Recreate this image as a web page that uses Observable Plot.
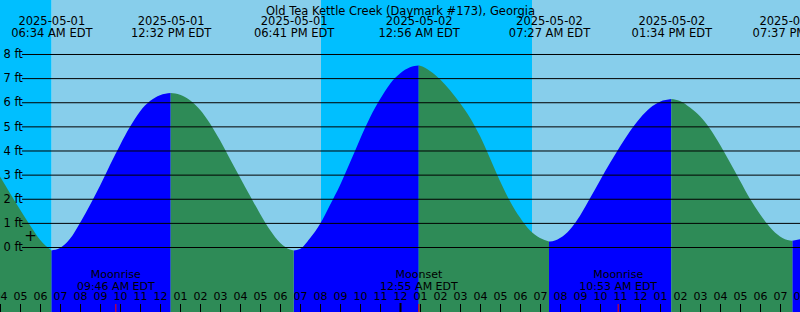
<!DOCTYPE html>
<html><head><meta charset="utf-8">
<script src="https://cdn.jsdelivr.net/npm/d3@7"></script>
<script src="https://cdn.jsdelivr.net/npm/@observablehq/plot@0.6"></script>
<style>html,body{margin:0;padding:0;background:#fff;} svg{display:block}</style>
</head><body><div id="chart"></div>
<script>
const title = "Old Tea Kettle Creek (Daymark #173), Georgia";

// Tide curve samples (local clock time, feet)
const sampleTimes = [
  "2025-05-01T04:00","2025-05-01T04:30","2025-05-01T05:00","2025-05-01T05:30","2025-05-01T06:00",
  "2025-05-01T07:00","2025-05-01T07:30","2025-05-01T08:00","2025-05-01T08:30","2025-05-01T09:00",
  "2025-05-01T09:30","2025-05-01T10:00","2025-05-01T10:30","2025-05-01T11:00","2025-05-01T11:30",
  "2025-05-01T12:00","2025-05-01T13:00","2025-05-01T13:30","2025-05-01T14:00","2025-05-01T14:30",
  "2025-05-01T15:00","2025-05-01T15:30","2025-05-01T16:00","2025-05-01T16:30","2025-05-01T17:00",
  "2025-05-01T17:30","2025-05-01T18:00","2025-05-01T18:30","2025-05-01T19:00","2025-05-01T19:30",
  "2025-05-01T20:00","2025-05-01T20:30","2025-05-01T21:00","2025-05-01T21:30","2025-05-01T22:00",
  "2025-05-01T22:30","2025-05-01T23:00","2025-05-01T23:30","2025-05-02T00:00","2025-05-02T00:30",
  "2025-05-02T01:00","2025-05-02T01:30","2025-05-02T02:00","2025-05-02T02:30","2025-05-02T03:00",
  "2025-05-02T03:30","2025-05-02T04:00","2025-05-02T04:30","2025-05-02T05:00","2025-05-02T05:30",
  "2025-05-02T06:00","2025-05-02T06:30","2025-05-02T07:00","2025-05-02T07:30","2025-05-02T08:00",
  "2025-05-02T08:30","2025-05-02T09:00","2025-05-02T09:30","2025-05-02T10:00","2025-05-02T10:30",
  "2025-05-02T11:00","2025-05-02T11:30","2025-05-02T12:00","2025-05-02T12:30","2025-05-02T13:00",
  "2025-05-02T14:00","2025-05-02T14:30","2025-05-02T15:00","2025-05-02T15:30","2025-05-02T16:00",
  "2025-05-02T16:30","2025-05-02T17:00","2025-05-02T17:30","2025-05-02T18:00","2025-05-02T18:30",
  "2025-05-02T19:00","2025-05-02T19:30","2025-05-02T20:00"
];
const sampleHeights = [
  2.92, 2.23, 1.55, 0.90, 0.30,
  -0.04, 0.34, 1.00, 1.74, 2.54,
  3.40, 4.22, 4.98, 5.62, 6.05,
  6.29, 6.31, 6.08, 5.69, 5.12,
  4.42, 3.65, 2.88, 2.12, 1.38,
  0.70, 0.18, -0.10, -0.08, 0.36,
  0.95, 1.74, 2.56, 3.50, 4.47,
  5.37, 6.12, 6.76, 7.19, 7.45,
  7.51, 7.30, 6.95, 6.50, 5.97,
  5.36, 4.60, 3.68, 2.74, 1.90,
  1.22, 0.68, 0.37, 0.23, 0.37,
  0.73, 1.30, 2.02, 2.76, 3.48,
  4.17, 4.80, 5.34, 5.76, 6.02,
  6.05, 5.78, 5.42, 4.90, 4.24,
  3.50, 2.75, 2.00, 1.36, 0.82,
  0.44, 0.27, 0.32
];

// High / low tide events
const tideTimes = ["2025-05-01T06:34","2025-05-01T12:32","2025-05-01T18:41","2025-05-02T00:56","2025-05-02T07:27","2025-05-02T13:34","2025-05-02T19:37"];
const tideTypes = ["low","high","low","high","low","high","low"];
const tideHeights = [-0.14, 6.38, -0.14, 7.52, 0.23, 6.13, 0.26];
const tideDateLabels = ["2025-05-01","2025-05-01","2025-05-01","2025-05-02","2025-05-02","2025-05-02","2025-05-02"];
const tideTimeLabels = ["06:34 AM EDT","12:32 PM EDT","06:41 PM EDT","12:56 AM EDT","07:27 AM EDT","01:34 PM EDT","07:37 PM EDT"];

// Moon events
const moonTimes = ["2025-05-01T09:46","2025-05-02T00:55","2025-05-02T10:53"];
const moonNames = ["Moonrise","Moonset","Moonrise"];
const moonTimeLabels = ["09:46 AM EDT","12:55 AM EDT","10:53 AM EDT"];

// Day / night shading
const skyStarts = ["2025-05-01T04:00","2025-05-01T06:35","2025-05-01T20:03","2025-05-02T06:36"];
const skyEnds   = ["2025-05-01T06:35","2025-05-01T20:03","2025-05-02T06:36","2025-05-02T20:00"];
const skyKinds  = ["night","day","night","day"];

const dayBoundaries = ["2025-05-02T00:00"];
const ftTicks = [0,1,2,3,4,5,6,7,8];
const markerTime = "2025-05-01T05:30";
const markerHeight = 0.47;

const xStart = "2025-05-01T04:00", xEnd = "2025-05-02T20:00";
const yLo = -2.694, yHi = 10.238;

const NIGHT = "#00bfff", DAY = "#87ceeb", FLOOD = "#0000ff", EBB = "#2e8b57";
const FONT = 11.5, FONT_B = 11;

const parse = d3.utcParse("%Y-%m-%dT%H:%M");

// build water rows split into rising/falling segments at the extremes
const extremes = tideTimes.map((t, i) => ({time: parse(t), type: tideTypes[i], height: tideHeights[i]}));
const samples = sampleTimes.map((t, i) => ({time: parse(t), height: sampleHeights[i], ext: false}))
  .concat(extremes.map(e => ({time: e.time, height: e.height, ext: true})))
  .sort((a, b) => a.time - b.time);
function segDir(s) {
  if (s < extremes.length) return extremes[s].type === "high" ? "rise" : "fall";
  return extremes[extremes.length - 1].type === "low" ? "rise" : "fall";
}
const waterRows = [];
for (const p of samples) {
  const before = extremes.filter(e => e.time < p.time).length;
  waterRows.push({time: p.time, height: p.height, seg: before, dir: segDir(before)});
  if (p.ext) waterRows.push({time: p.time, height: p.height, seg: before + 1, dir: segDir(before + 1)});
}

const sky = skyStarts.map((s, i) => ({start: parse(s), end: parse(skyEnds[i]), kind: skyKinds[i]}));
const tideEvents = tideTimes.map((t, i) => ({time: parse(t), text: tideDateLabels[i] + "\n" + tideTimeLabels[i]}));
const moonEvents = moonTimes.map((t, i) => ({time: parse(t), text: moonNames[i] + "\n" + moonTimeLabels[i]}));
const start = parse(xStart), end = parse(xEnd);
const hours = d3.utcHour.range(start, d3.utcHour.offset(end, 1));
const hourFmt = d3.utcFormat("%I");

const plot = Plot.plot({
  width: 800, height: 312,
  marginTop: 0, marginRight: 0, marginBottom: 0, marginLeft: 0,
  style: {fontFamily: "'DejaVu Sans', sans-serif", fontSize: FONT + "px", color: "black", background: "white", overflow: "hidden"},
  x: {type: "utc", domain: [start, end], axis: null},
  y: {domain: [yLo, yHi], axis: null},
  marks: [
    Plot.rect(sky.filter(d => d.kind === "night"), {x1: "start", x2: "end", y1: yLo, y2: yHi, fill: NIGHT}),
    Plot.rect(sky.filter(d => d.kind === "day"), {x1: "start", x2: "end", y1: yLo, y2: yHi, fill: DAY}),
    Plot.areaY(waterRows.filter(d => d.dir === "rise"), {x: "time", y1: yLo, y2: "height", z: "seg", fill: FLOOD, curve: "monotone-x"}),
    Plot.areaY(waterRows.filter(d => d.dir === "fall"), {x: "time", y1: yLo, y2: "height", z: "seg", fill: EBB, curve: "monotone-x"}),
    Plot.tickY(ftTicks, {y: d => d, stroke: "black", strokeWidth: 1, insetLeft: 22}),
    Plot.text(ftTicks, {y: d => d, text: d => `${d} ft`, frameAnchor: "left", dx: 3, textAnchor: "start", fontSize: FONT, fill: "black"}),
    Plot.text([title], {text: d => d, frameAnchor: "top", dy: 6.8, fontSize: FONT, fill: "black"}),
    Plot.text(tideEvents, {x: "time", text: "text", frameAnchor: "top", lineAnchor: "top", dy: 16.3, lineHeight: 12 / FONT, fontSize: FONT, fill: "black"}),
    Plot.text(moonEvents, {x: "time", text: "text", frameAnchor: "bottom", lineAnchor: "top", dy: -43.3, lineHeight: 12 / FONT_B, fontSize: FONT_B, fill: "black"}),
    Plot.text(hours, {x: d => d, text: d => hourFmt(d), frameAnchor: "bottom", dy: -12.5, fontSize: FONT_B, fill: "black"}),
    Plot.tickX(hours, {x: d => d, stroke: "black", insetTop: 304}),
    Plot.tickX(dayBoundaries.map(parse), {x: d => d, stroke: "black", strokeWidth: 2, insetTop: 303}),
    Plot.tickX(moonEvents, {x: "time", stroke: "red", insetTop: 304}),
    Plot.text([{time: parse(markerTime), height: markerHeight}], {x: "time", y: "height", text: () => "+", fontSize: 15, fill: "black"})
  ]
});
document.getElementById("chart").appendChild(plot);
</script>
</body></html>
